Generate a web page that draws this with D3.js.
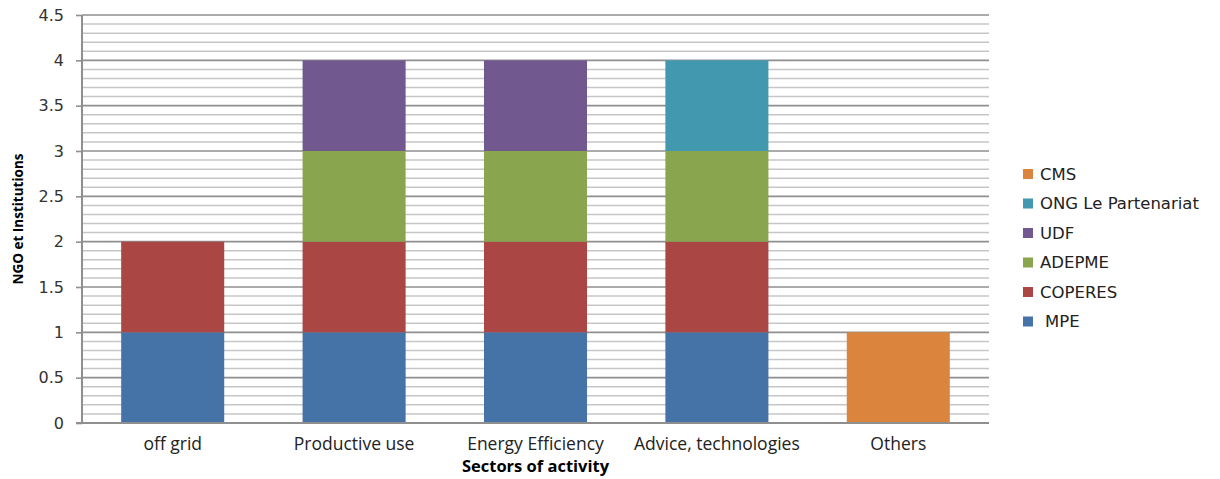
<!DOCTYPE html>
<html>
<head>
<meta charset="utf-8">
<script src="https://cdn.jsdelivr.net/npm/d3@7"></script>
<style>
  html, body { margin: 0; padding: 0; background: #fff; }
  svg { display: block; }
</style>
</head>
<body>
<svg id="chart" width="1220" height="479"></svg>
<script>
// Sectors on the x axis
const categories = ["off grid", "Productive use", "Energy Efficiency", "Advice, technologies", "Others"];

// Stacked series, bottom to top
const seriesNames = ["MPE", "COPERES", "ADEPME", "UDF", "ONG Le Partenariat", "CMS"];
const MPE        = [1, 1, 1, 1, 0];
const COPERES    = [1, 1, 1, 1, 0];
const ADEPME     = [0, 1, 1, 1, 0];
const UDF        = [0, 1, 1, 0, 0];
const ONG        = [0, 0, 0, 1, 0];
const CMS        = [0, 0, 0, 0, 1];
const seriesColors = ["#4572A7", "#AA4643", "#89A54E", "#71588F", "#4198AF", "#DB843D"];

const yTicks = [0, 0.5, 1, 1.5, 2, 2.5, 3, 3.5, 4, 4.5];
const yMax = 4.5;

const seriesValues = [MPE, COPERES, ADEPME, UDF, ONG, CMS];
const rows = categories.map((c, i) => {
  const r = { category: c };
  seriesNames.forEach((s, k) => { r[s] = seriesValues[k][i]; });
  return r;
});

const svg = d3.select("#chart");
const margin = { left: 82, right: 231, top: 15, bottom: 56 };
const W = 1220, H = 479;
const x0 = margin.left, x1 = W - margin.right;
const yBottom = H - margin.bottom, yTop = margin.top;

const x = d3.scaleBand().domain(categories).range([x0, x1]).paddingInner(0.432).paddingOuter(0.216);
const y = d3.scaleLinear().domain([0, yMax]).range([yBottom, yTop]);

// Minor gridlines every 0.1
const minor = d3.range(1, 46).map(v => v / 10).filter(v => Math.abs(v * 2 - Math.round(v * 2)) > 1e-6);
svg.append("g").selectAll("line").data(minor).join("line")
  .attr("x1", x0).attr("x2", x1)
  .attr("y1", d => y(d)).attr("y2", d => y(d))
  .attr("stroke", "#c6c6c6").attr("stroke-width", 1.5);

// Major gridlines
svg.append("g").selectAll("line").data(yTicks.filter(v => v > 0)).join("line")
  .attr("x1", x0).attr("x2", x1)
  .attr("y1", d => y(d)).attr("y2", d => y(d))
  .attr("stroke", "#8f8f8f").attr("stroke-width", 1.6);

// Stacked bars
const stack = d3.stack().keys(seriesNames)(rows);
svg.append("g").selectAll("g").data(stack).join("g")
  .attr("fill", (d, i) => seriesColors[i])
  .selectAll("rect").data(d => d.filter(p => p[1] - p[0] > 0)).join("rect")
  .attr("x", d => x(d.data.category))
  .attr("width", x.bandwidth())
  .attr("y", d => y(d[1]))
  .attr("height", d => y(d[0]) - y(d[1]));

// Y axis
const yAxis = svg.append("g").attr("transform", `translate(${x0},0)`)
  .call(d3.axisLeft(y).tickValues(yTicks).tickSize(6).tickPadding(12).tickFormat(d => d3.format("")(d)));
yAxis.select(".domain").attr("stroke", "#8f8f8f").attr("stroke-width", 2).attr("d", `M0,${yTop}V${yBottom}`);
yAxis.selectAll(".tick line").attr("stroke", "#8f8f8f").attr("stroke-width", 1.6);
yAxis.selectAll(".tick text")
  .attr("fill", "#333").style("font-family", "DejaVu Sans, Verdana, sans-serif").style("font-size", "16px");

// X axis line
svg.append("line")
  .attr("x1", x0 - 6).attr("x2", x1)
  .attr("y1", yBottom).attr("y2", yBottom)
  .attr("stroke", "#8f8f8f").attr("stroke-width", 2);

// Category labels
svg.append("g").selectAll("text").data(categories).join("text")
  .attr("x", d => x(d) + x.bandwidth() / 2)
  .attr("y", yBottom + 27)
  .attr("text-anchor", "middle")
  .attr("fill", "#222")
  .style("font-family", "Open Sans, Liberation Sans, sans-serif")
  .style("font-size", "17.5px")
  .text(d => d);

// Axis titles
svg.append("text")
  .attr("x", (x0 + x1) / 2).attr("y", H - 7)
  .attr("text-anchor", "middle")
  .style("font-family", "Open Sans, Liberation Sans, sans-serif")
  .style("font-size", "16.5px").style("font-weight", "bold")
  .text("Sectors of activity");

svg.append("text")
  .attr("transform", `translate(23,${(yTop + yBottom) / 2}) rotate(-90)`)
  .attr("text-anchor", "middle")
  .style("font-family", "Open Sans, Liberation Sans, sans-serif")
  .style("font-size", "13.5px").style("font-weight", "bold")
  .text("NGO et Institutions");

// Legend (top to bottom mirrors stack order reversed)
const legendOrder = seriesNames.map((s, i) => ({ name: s, color: seriesColors[i] })).reverse();
const legend = svg.append("g").selectAll("g").data(legendOrder).join("g")
  .attr("transform", (d, i) => `translate(1023,${174 + i * 29.5})`);
legend.append("rect").attr("x", 0).attr("y", -5).attr("width", 10).attr("height", 10).attr("fill", d => d.color);
legend.append("text")
  .attr("x", d => d.name === "MPE" ? 22 : 17).attr("y", 0).attr("dy", "0.36em")
  .attr("fill", "#222")
  .style("font-family", "DejaVu Sans, Verdana, sans-serif").style("font-size", "16.5px")
  .text(d => d.name);
</script>
</body>
</html>
